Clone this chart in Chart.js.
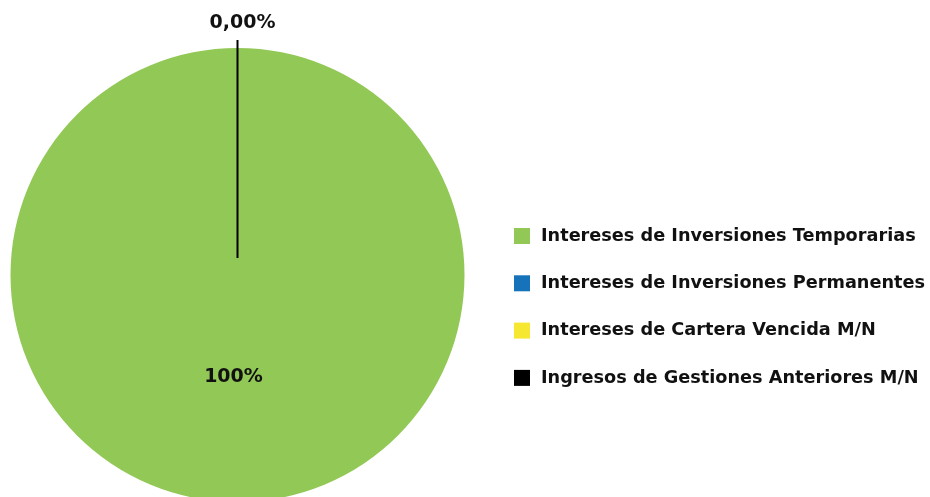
<!DOCTYPE html>
<html>
<head>
<meta charset="utf-8">
<script src="https://cdn.jsdelivr.net/npm/chart.js@4/dist/chart.umd.min.js"></script>
<style>
  html, body { margin: 0; padding: 0; background: #fff; overflow: hidden; }
  #wrap { position: relative; width: 930px; height: 560px; }
</style>
</head>
<body>
<div id="wrap"><canvas id="pie-chart"></canvas></div>
<script>
const categories = [
    'Intereses de Inversiones Temporarias',
    'Intereses de Inversiones Permanentes',
    'Intereses de Cartera Vencida M/N',
    'Ingresos de Gestiones Anteriores M/N'
];
const shares = [100, 0, 0, 0];
const shareLabels = ['100%', '0,00%', '0,00%', '0,00%'];
const colors = ['#92c855', '#1673ba', '#f6e830', '#000000'];

const LEGEND_FONT = 'bold 17.7px "DejaVu Sans", sans-serif';
const LABEL_FONT = 'bold 19px "DejaVu Sans", sans-serif';

// labels on the slices + leader line for the empty ones
const sliceLabels = {
    id: 'sliceLabels',
    afterDatasetsDraw(chart) {
        const ctx = chart.ctx;
        const arcs = chart.getDatasetMeta(0).data;
        ctx.save();
        ctx.font = LABEL_FONT;
        ctx.fillStyle = '#111';
        ctx.textAlign = 'center';
        ctx.textBaseline = 'middle';
        let zeroDone = false;
        arcs.forEach((arc, i) => {
            const a = (arc.startAngle + arc.endAngle) / 2;
            const r = arc.outerRadius;
            if (shares[i] > 0) {
                ctx.fillText(shareLabels[i], arc.x + Math.cos(a) * r * 0.45 - 4, arc.y + Math.sin(a) * r * 0.45);
            } else if (!zeroDone) {
                zeroDone = true;
                ctx.strokeStyle = '#000';
                ctx.lineWidth = 2;
                ctx.beginPath();
                ctx.moveTo(arc.x + Math.cos(a) * 17, arc.y + Math.sin(a) * 17);
                ctx.lineTo(arc.x + Math.cos(a) * (r + 8), arc.y + Math.sin(a) * (r + 8));
                ctx.stroke();
                ctx.fillText(shareLabels[i], arc.x + Math.cos(a) * (r + 25) + 5, arc.y + Math.sin(a) * (r + 25));
            }
        });
        ctx.restore();
    }
};

// legend on the right side
const sideLegend = {
    id: 'sideLegend',
    afterDraw(chart) {
        const ctx = chart.ctx;
        ctx.save();
        ctx.font = LEGEND_FONT;
        ctx.textAlign = 'left';
        ctx.textBaseline = 'middle';
        chart.data.labels.forEach((label, i) => {
            const y = 236 + i * 47.3;
            ctx.fillStyle = colors[i];
            ctx.fillRect(514, y - 8, 16, 16);
            ctx.fillStyle = '#111';
            ctx.fillText(label, 541, y);
        });
        ctx.restore();
    }
};

const ctx = document.getElementById('pie-chart').getContext('2d');
const chart = new Chart(ctx, {
    type: 'pie',
    data: {
        labels: categories,
        datasets: [{
            data: shares,
            backgroundColor: colors,
            borderWidth: 0
        }]
    },
    options: {
        responsive: true,
        maintainAspectRatio: false,
        animation: false,
        layout: { padding: { left: 10, right: 465, top: 48, bottom: 58 } },
        plugins: {
            legend: { display: false },
            tooltip: { enabled: false }
        }
    },
    plugins: [sliceLabels, sideLegend]
});
</script>
</body>
</html>
